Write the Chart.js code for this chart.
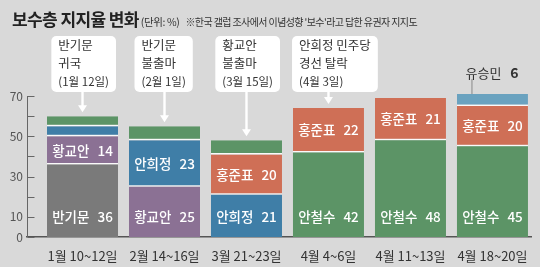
<!DOCTYPE html>
<html>
<head>
<meta charset="utf-8">
<script src="https://cdn.jsdelivr.net/npm/chart.js@4/dist/chart.umd.min.js"></script>
<style>
  body { margin: 0; background: #d9d9d9; }
  #wrap { position: relative; width: 540px; height: 267px; background: #d9d9d9; font-family: "Noto Sans CJK KR", sans-serif; }
  #title { position: absolute; left: 12px; top: 6px; white-space: nowrap; color: #222; line-height: 26px; }
  #title .t { font-size: 17px; font-weight: 700; letter-spacing: -0.6px; }
  #title .u { font-size: 10.5px; color: #333; margin-left: 2px; letter-spacing: -0.4px; }
  #title .n { font-size: 10px; color: #333; margin-left: 6px; letter-spacing: -0.6px; }
  canvas { position: absolute; left: 0; top: 0; }
</style>
</head>
<body>
<div id="wrap">
  <canvas id="c" width="540" height="267"></canvas>
  <div id="title"><span class="t">보수층 지지율 변화</span><span class="u">(단위: %)</span><span class="n">※한국 갤럽 조사에서 이념성향 '보수'라고 답한 유권자 지지도</span></div>
</div>
<script>
const categories = ['1월 10~12일', '2월 14~16일', '3월 21~23일', '4월 4~6일', '4월 11~13일', '4월 18~20일'];

// stack layers from the bottom up: who sits in that slot and their share (%)
const layer1Names = ['반기문', '황교안', '안희정', '안철수', '안철수', '안철수'];
const layer1Values = [36, 25, 21, 42, 48, 45];
const layer2Names = ['황교안', '안희정', '홍준표', '홍준표', '홍준표', '홍준표'];
const layer2Values = [14, 23, 20, 22, 21, 20];
const layer3Names = ['안희정', '안철수', '안철수', null, null, '유승민'];
const layer3Values = [5, 7, 7, null, null, 6];
const layer4Names = ['안철수', null, null, null, null, null];
const layer4Values = [5, null, null, null, null, null];

const yTicks = [0, 10, 20, 30, 40, 50, 60, 70];
const yTickLabels = ['0', '10', '', '30', '', '50', '', '70'];

const calloutBars = [0, 1, 2, 3];
const calloutTexts = [
  ['반기문', '귀국', '(1월 12일)'],
  ['반기문', '불출마', '(2월 1일)'],
  ['황교안', '불출마', '(3월 15일)'],
  ['안희정 민주당', '경선 탈락', '(4월 3일)']
];
const outsideLabelNames = ['유승민'];

const candidateColors = {
  '반기문': '#7a7a7a',
  '황교안': '#8b7194',
  '안희정': '#3f7ea7',
  '홍준표': '#cf6f56',
  '안철수': '#5c9466',
  '유승민': '#6aa2bf'
};

const FONT = '"Noto Sans CJK KR", sans-serif';
Chart.defaults.font.family = FONT;

const layers = [
  {names: layer1Names, values: layer1Values},
  {names: layer2Names, values: layer2Values},
  {names: layer3Names, values: layer3Values},
  {names: layer4Names, values: layer4Values}
];

function stackTotal(i) {
  return layers.reduce((s, l) => s + (l.values[i] || 0), 0);
}

const overlay = {
  id: 'overlay',
  afterDraw(chart) {
    const {ctx, scales: {x, y}} = chart;
    ctx.save();

    // y axis line with ticks pointing inward
    const ax = Math.round(x.left) + 0.5;
    ctx.strokeStyle = '#666';
    ctx.lineWidth = 1;
    ctx.beginPath();
    ctx.moveTo(ax, y.getPixelForValue(0));
    ctx.lineTo(ax, y.getPixelForValue(70));
    yTicks.forEach(v => {
      const py = Math.round(y.getPixelForValue(v)) + 0.5;
      ctx.moveTo(ax, py);
      ctx.lineTo(ax + 7, py);
    });
    ctx.stroke();

    // labels inside bars
    ctx.textBaseline = 'middle';
    layers.forEach((layer, li) => {
      const meta = chart.getDatasetMeta(li);
      meta.data.forEach((el, i) => {
        const v = layer.values[i];
        const name = layer.names[i];
        if (v == null) return;
        if (v >= 10) {
          const cy = li === 0 ? el.base - 20 : (el.y + el.base) / 2;
          ctx.font = '500 13.5px ' + FONT;
          ctx.fillStyle = '#fff';
          const nw = ctx.measureText(name).width;
          const vw = ctx.measureText(String(v)).width;
          const gap = 8;
          let sx = el.x - (nw + gap + vw) / 2;
          ctx.textAlign = 'left';
          ctx.fillText(name, sx, cy);
          ctx.fillText(String(v), sx + nw + gap, cy);
        } else if (outsideLabelNames.includes(name)) {
          const ly = el.y - 21;
          const lx = el.x - 27;
          ctx.strokeStyle = '#888';
          ctx.beginPath();
          ctx.moveTo(lx + 6.5, ly + 6);
          ctx.lineTo(lx + 6.5, el.y);
          ctx.stroke();
          ctx.textAlign = 'left';
          ctx.fillStyle = '#333';
          ctx.font = '13px ' + FONT;
          ctx.fillText(name, lx, ly);
          const nw = ctx.measureText(name).width;
          ctx.font = '700 14px ' + FONT;
          ctx.fillText(String(v), lx + nw + 9, ly);
        }
      });
    });

    // event callouts with arrows
    const boxTop = 36, boxBottom = 92;
    calloutBars.forEach((bi, k) => {
      const lines = calloutTexts[k];
      const cx = x.getPixelForValue(bi);
      const tip = y.getPixelForValue(stackTotal(bi)) - 4;
      ctx.font = '12.5px ' + FONT;
      let w = Math.max(ctx.measureText(lines[0]).width, ctx.measureText(lines[1]).width);
      ctx.font = '11.5px ' + FONT;
      w = Math.max(w, ctx.measureText(lines[2]).width) + 14;
      const left = cx - 30 - Math.max(0, w - 60) / 4;
      ctx.fillStyle = '#fff';
      ctx.beginPath();
      ctx.roundRect(left, boxTop, w, boxBottom - boxTop, 5);
      ctx.fill();
      ctx.fillRect(cx - 1.2, boxBottom, 2.4, tip - boxBottom - 5);
      ctx.beginPath();
      ctx.moveTo(cx - 4.5, tip - 7);
      ctx.lineTo(cx + 4.5, tip - 7);
      ctx.lineTo(cx, tip);
      ctx.closePath();
      ctx.fill();
      ctx.fillStyle = '#333';
      ctx.textAlign = 'left';
      ctx.font = '12.5px ' + FONT;
      ctx.fillText(lines[0], left + 7, boxTop + 9);
      ctx.fillText(lines[1], left + 7, boxTop + 27);
      ctx.font = '11.5px ' + FONT;
      ctx.fillText(lines[2], left + 7, boxTop + 46);
    });

    ctx.restore();
  }
};

new Chart(document.getElementById('c'), {
  type: 'bar',
  data: {
    datasets: layers.map((layer, li) => ({
      label: 'layer' + (li + 1),
      data: layer.values.map((v, i) => ({x: i, y: v})),
      backgroundColor: layer.names.map(n => candidateColors[n] || 'transparent'),
      borderColor: 'rgba(255,255,255,0.85)',
      borderWidth: li === 0 ? 0 : {top: 0, right: 0, left: 0, bottom: 1.5},
      borderSkipped: false,
      categoryPercentage: 0.866,
      barPercentage: 1
    }))
  },
  options: {
    responsive: false,
    animation: false,
    layout: {padding: {top: 35.6, right: 9, bottom: 0, left: 0}},
    plugins: {legend: {display: false}, tooltip: {enabled: false}},
    scales: {
      x: {
        type: 'linear',
        stacked: true,
        offset: false,
        min: -0.677,
        max: 5.47,
        afterBuildTicks: s => { s.ticks = categories.map((c, i) => ({value: i})); },
        afterFit: s => { s.height = 30; s.paddingLeft = 0; s.paddingRight = 0; },
        ticks: {
          callback: v => categories[v],
          color: '#333',
          font: {size: 13},
          padding: 3,
          maxRotation: 0,
          autoSkip: false
        },
        grid: {display: false, offset: false},
        border: {color: '#555', width: 1.5}
      },
      y: {
        stacked: true,
        min: 0,
        max: 100,
        afterBuildTicks: s => { s.ticks = yTicks.map(v => ({value: v})); },
        afterFit: s => { s.width = 27; },
        ticks: {
          callback: v => yTickLabels[yTicks.indexOf(v)],
          color: '#555',
          font: {size: 12},
          padding: 4
        },
        grid: {display: false, drawTicks: false},
        border: {display: false}
      }
    }
  },
  plugins: [overlay]
});
</script>
</body>
</html>
